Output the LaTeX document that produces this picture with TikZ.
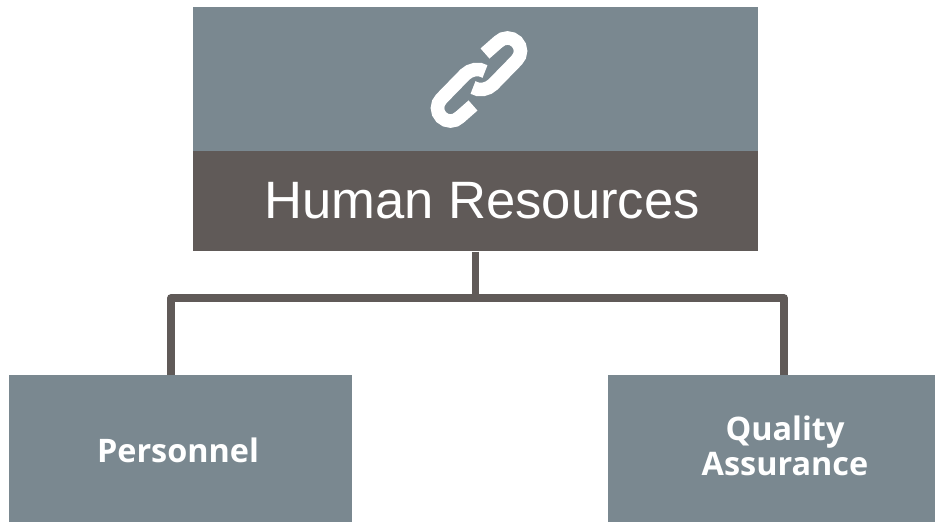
\documentclass[tikz,border=0pt]{standalone}
\usepackage{fontspec}
\setmainfont{Liberation Sans}
\newfontfamily\boxfont{Open Sans}
\usetikzlibrary{positioning}
\definecolor{slate}{RGB}{122,136,144}
\definecolor{umber}{RGB}{96,90,88}
\tikzset{
hr_box/.style={
	% The shape:
	rectangle,
	inner sep=0pt,
	% The filling:
	fill=#1
},
title_text/.style={text=white, font=\fontsize{52.6}{52.6}\selectfont},
dept_text/.style={text=white, align=center, font=\boxfont\bfseries\fontsize{32.4}{35}\selectfont},
bus_line/.style={draw=umber, line width=7.5pt, line join=round},
link_line/.style={draw=white, line width=13.5pt}
}
\begin{document}
\begin{tikzpicture}[x=1pt, y=-1pt]
	\useasboundingbox (0,0) rectangle (935,522);

	\node [hr_box=slate, minimum width=565pt, minimum height=144pt] (hr_icon) at (475.5,79) {};
	\node [hr_box=umber, minimum width=565pt, minimum height=100pt, below=0pt of hr_icon] (hr_title) {};
	\node [hr_box=slate, minimum width=343pt, minimum height=147pt] (personnel) at (180.5,448.5) {};
	\node [hr_box=slate, minimum width=327pt, minimum height=147pt] (quality) at (771.5,448.5) {};

	\node [title_text] (hr_label) at (482,201) {Human Resources};
	\node [dept_text] (personnel_label) at (178,450) {Personnel};
	\node [dept_text] (quality_label) at (785,446) {Quality\\Assurance};

	\coordinate (bus_mid) at (hr_title.south |- 0,298);
	\coordinate (bus_left) at (171,298);
	\coordinate (bus_right) at (784,298);

	\draw [bus_line] (personnel.north -| bus_left) -- (bus_left) -- (bus_right) -- (quality.north -| bus_right);
	\draw [bus_line] (hr_title.south) -- (bus_mid);

	% chain icon, one link and the same link turned round
	\foreach \turn in {0,180} {
		\draw [link_line, shift={(479,79.5)}, rotate=\turn]
			(6,-26) -- (19.3,-37.7)
			.. controls (24.4,-42.8) and (32.6,-42.8) .. (37.7,-37.7)
			.. controls (42.8,-32.6) and (42.8,-24.4) .. (37.7,-19.3)
			-- (14,5)
			.. controls (9,10) and (0,12) .. (-6,8);
	}
\end{tikzpicture}
\end{document}
